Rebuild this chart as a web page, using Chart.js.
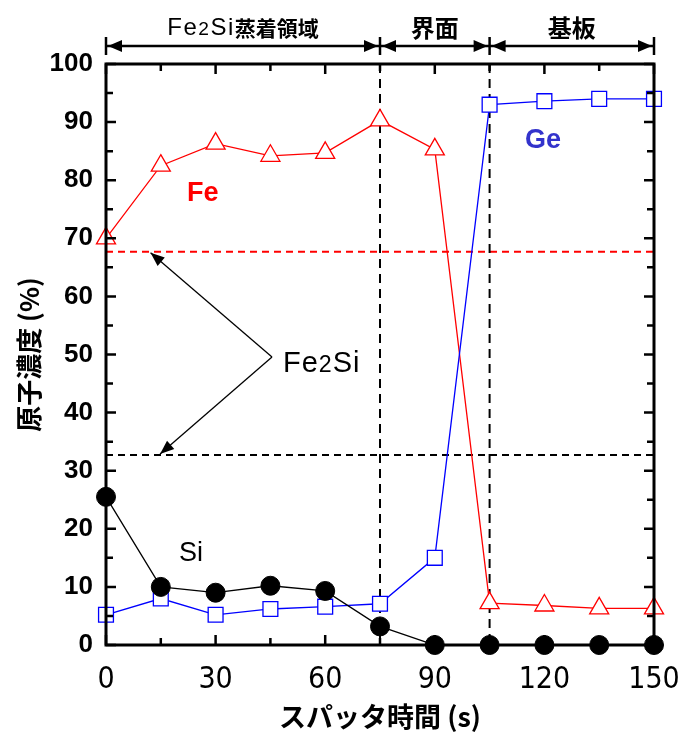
<!DOCTYPE html>
<html>
<head>
<meta charset="utf-8">
<script src="https://cdn.jsdelivr.net/npm/chart.js@4/dist/chart.umd.min.js"></script>
<style>
  body { margin: 0; background: #fff; }
  #wrap { width: 681px; height: 733px; }
</style>
</head>
<body>
<div id="wrap"><canvas id="depthChart"></canvas></div>
<script>
// sputter time (s)
const times = [0, 15, 30, 45, 60, 75, 90, 105, 120, 135, 150];
// atomic concentration (%)
const feValues = [70, 82.5, 86.3, 84.2, 84.7, 90.3, 85.3, 7.2, 6.8, 6.3, 6.3];
const geValues = [5.2, 8, 5.2, 6.2, 6.6, 7.1, 15, 93, 93.6, 94, 94];
const siValues = [25.5, 10, 9, 10.2, 9.3, 3.2, 0, 0, 0, 0, 0];
// Fe2Si stoichiometry reference levels
const fe2siFeLevel = 67.7;
const fe2siSiLevel = 32.7;
// region boundaries
const boundaries = [75, 105];
const regions = [
    { label: 'Fe2Si蒸着領域', from: 0, to: 75 },
    { label: '界面', from: 75, to: 105 },
    { label: '基板', from: 105, to: 150 }
];
const xTicks = [0, 30, 60, 90, 120, 150];

function toPoints(vals) {
    return times.map((t, i) => ({ x: t, y: vals[i] }));
}

const tickFont = '"Liberation Sans", Arial, sans-serif';
const narrowFont = '"Liberation Sans Narrow", "DejaVu Sans Condensed", "Noto Sans CJK JP", sans-serif';
const jpFont = '"Noto Sans CJK JP", sans-serif';

function arrowHead(ctx, x, y, angle, len, w) {
    ctx.save();
    ctx.translate(x, y);
    ctx.rotate(angle);
    ctx.beginPath();
    ctx.moveTo(0, 0);
    ctx.lineTo(-len, -w);
    ctx.lineTo(-len, w);
    ctx.closePath();
    ctx.fill();
    ctx.restore();
}

function arrowTo(ctx, x1, y1, x2, y2) {
    ctx.beginPath();
    ctx.moveTo(x1, y1);
    ctx.lineTo(x2, y2);
    ctx.stroke();
    arrowHead(ctx, x2, y2, Math.atan2(y2 - y1, x2 - x1), 14, 5.5);
}

// "Fe2Si" with a slightly smaller 2, drawn from left x; returns width
function drawFe2Si(ctx, x, y, size, spacing, measureOnly) {
    const parts = [['Fe', size], ['2', size * 0.8], ['Si', size]];
    let cx = x;
    ctx.textAlign = 'left';
    ctx.textBaseline = 'alphabetic';
    ctx.letterSpacing = spacing + 'px';
    parts.forEach(p => {
        ctx.font = p[1] + 'px ' + tickFont;
        if (!measureOnly) ctx.fillText(p[0], cx, y);
        cx += ctx.measureText(p[0]).width;
    });
    ctx.letterSpacing = '0px';
    return cx - x;
}

const decorPlugin = {
    id: 'decor',
    beforeDatasetsDraw(chart) {
        const { ctx, chartArea: a, scales: { x, y } } = chart;
        ctx.save();
        ctx.lineWidth = 2;
        ctx.setLineDash([7, 5]);
        // horizontal reference levels
        ctx.strokeStyle = '#ff0000';
        ctx.beginPath();
        ctx.moveTo(a.left, y.getPixelForValue(fe2siFeLevel));
        ctx.lineTo(a.right, y.getPixelForValue(fe2siFeLevel));
        ctx.stroke();
        ctx.strokeStyle = '#000';
        ctx.beginPath();
        ctx.moveTo(a.left, y.getPixelForValue(fe2siSiLevel));
        ctx.lineTo(a.right, y.getPixelForValue(fe2siSiLevel));
        ctx.stroke();
        // vertical boundaries
        ctx.setLineDash([9, 6]);
        boundaries.forEach(b => {
            const px = x.getPixelForValue(b);
            ctx.beginPath();
            ctx.moveTo(px, a.top);
            ctx.lineTo(px, a.bottom);
            ctx.stroke();
        });
        ctx.restore();
    },
    afterDraw(chart) {
        const { ctx, chartArea: a, scales: { x, y } } = chart;
        ctx.save();
        // frame
        ctx.strokeStyle = '#000';
        ctx.lineWidth = 3;
        ctx.strokeRect(a.left, a.top, a.right - a.left, a.bottom - a.top);
        // inward ticks
        ctx.lineWidth = 2.5;
        for (let v = 0; v <= 100; v += 5) {
            const py = y.getPixelForValue(v);
            const len = v % 10 === 0 ? 10 : 7;
            ctx.beginPath();
            ctx.moveTo(a.left, py); ctx.lineTo(a.left + len, py);
            ctx.moveTo(a.right, py); ctx.lineTo(a.right - len, py);
            ctx.stroke();
        }
        for (let v = 0; v <= 150; v += 15) {
            const px = x.getPixelForValue(v);
            const len = v % 30 === 0 ? 10 : 7;
            ctx.beginPath();
            ctx.moveTo(px, a.bottom); ctx.lineTo(px, a.bottom - len);
            ctx.moveTo(px, a.top); ctx.lineTo(px, a.top + len);
            ctx.stroke();
        }
        // region arrows across the top
        const ay = 46;
        ctx.lineWidth = 2.5;
        ctx.fillStyle = '#000';
        regions.forEach(r => {
            const x1 = x.getPixelForValue(r.from), x2 = x.getPixelForValue(r.to);
            ctx.beginPath();
            ctx.moveTo(x1, ay); ctx.lineTo(x2, ay);
            ctx.stroke();
            arrowHead(ctx, x1 + 2, ay, Math.PI, 14, 6);
            arrowHead(ctx, x2 - 2, ay, 0, 14, 6);
            const cx = (x1 + x2) / 2;
            if (r.label.startsWith('Fe2Si')) {
                const rest = r.label.slice(5);
                ctx.font = 'bold 21px ' + jpFont;
                const w2 = ctx.measureText(rest).width;
                const w1 = drawFe2Si(ctx, 0, 0, 24, 1.5, true);
                const sx = cx - (w1 + w2) / 2;
                drawFe2Si(ctx, sx, 35, 24, 1.5);
                ctx.font = 'bold 21px ' + jpFont;
                ctx.textAlign = 'left';
                ctx.fillText(rest, sx + w1, 36);
            } else {
                ctx.font = 'bold 24px ' + jpFont;
                ctx.textAlign = 'center';
                ctx.textBaseline = 'alphabetic';
                ctx.fillText(r.label, cx, 37);
            }
        });
        [0, 75, 105, 150].forEach(v => {
            const px = x.getPixelForValue(v);
            ctx.beginPath();
            ctx.moveTo(px, ay - 9); ctx.lineTo(px, ay + 9);
            ctx.stroke();
        });
        // series labels
        ctx.textAlign = 'left';
        ctx.textBaseline = 'middle';
        ctx.font = 'bold 27px ' + tickFont;
        ctx.fillStyle = '#ff0000';
        ctx.fillText('Fe', 187, 194);
        ctx.fillStyle = '#3333cc';
        ctx.fillText('Ge', 525, 141);
        ctx.fillStyle = '#000';
        ctx.font = '27px ' + tickFont;
        ctx.fillText('Si', 179, 554);
        // Fe2Si pointer
        ctx.lineWidth = 1.3;
        const tipX = 272, tipY = 357;
        arrowTo(ctx, tipX, tipY, x.getPixelForValue(12.2), y.getPixelForValue(fe2siFeLevel) + 1);
        arrowTo(ctx, tipX, tipY, x.getPixelForValue(14.8), y.getPixelForValue(fe2siSiLevel) - 1);
        drawFe2Si(ctx, 283, 372, 29, 1);
        ctx.restore();
    }
};

new Chart(document.getElementById('depthChart'), {
    type: 'line',
    data: {
        datasets: [
            {
                label: 'Si',
                data: toPoints(siValues),
                borderColor: '#000',
                backgroundColor: '#000',
                borderWidth: 1.3,
                pointStyle: 'circle',
                pointRadius: 9.5,
                pointBorderWidth: 1,
                clip: false
            },
            {
                label: 'Ge',
                data: toPoints(geValues),
                borderColor: '#0000ff',
                backgroundColor: '#fff',
                borderWidth: 1.3,
                pointStyle: 'rect',
                pointRadius: 10.5,
                pointBorderWidth: 1.3,
                clip: false
            },
            {
                label: 'Fe',
                data: toPoints(feValues),
                borderColor: '#ff0000',
                backgroundColor: '#fff',
                borderWidth: 1.3,
                pointStyle: 'triangle',
                pointRadius: 11,
                pointBorderWidth: 1.3,
                clip: false
            }
        ]
    },
    options: {
        responsive: true,
        maintainAspectRatio: false,
        animation: false,
        events: [],
        layout: { padding: { top: 64, right: 27, left: 0, bottom: 0 } },
        plugins: { legend: { display: false }, tooltip: { enabled: false } },
        scales: {
            x: {
                type: 'linear',
                min: 0,
                max: 150,
                afterBuildTicks(scale) { scale.ticks = xTicks.map(v => ({ value: v })); },
                afterFit(scale) {
                    scale.height = 88;
                    scale.paddingLeft = 0;
                    scale.paddingRight = 0;
                },
                grid: { display: false, drawTicks: false },
                border: { display: false },
                ticks: {
                    padding: 17,
                    color: '#000',
                    font: { family: narrowFont, size: 30 },
                    maxRotation: 0
                },
                title: {
                    display: true,
                    text: 'スパッタ時間 (s)',
                    color: '#000',
                    font: { family: jpFont, size: 27, weight: 'bold' },
                    padding: { top: 0, bottom: 0 }
                }
            },
            y: {
                min: 0,
                max: 100,
                afterFit(scale) {
                    scale.width = 106;
                    scale.paddingTop = 0;
                    scale.paddingBottom = 0;
                },
                grid: { display: false, drawTicks: false },
                border: { display: false },
                ticks: {
                    stepSize: 10,
                    padding: 13,
                    color: '#000',
                    font: { family: tickFont, size: 26, weight: 'bold' }
                },
                title: {
                    display: true,
                    text: '原子濃度 (%)',
                    color: '#000',
                    font: { family: jpFont, size: 26, weight: 'bold' },
                    padding: { top: 14, bottom: 4 }
                }
            }
        }
    },
    plugins: [decorPlugin]
});
</script>
</body>
</html>
